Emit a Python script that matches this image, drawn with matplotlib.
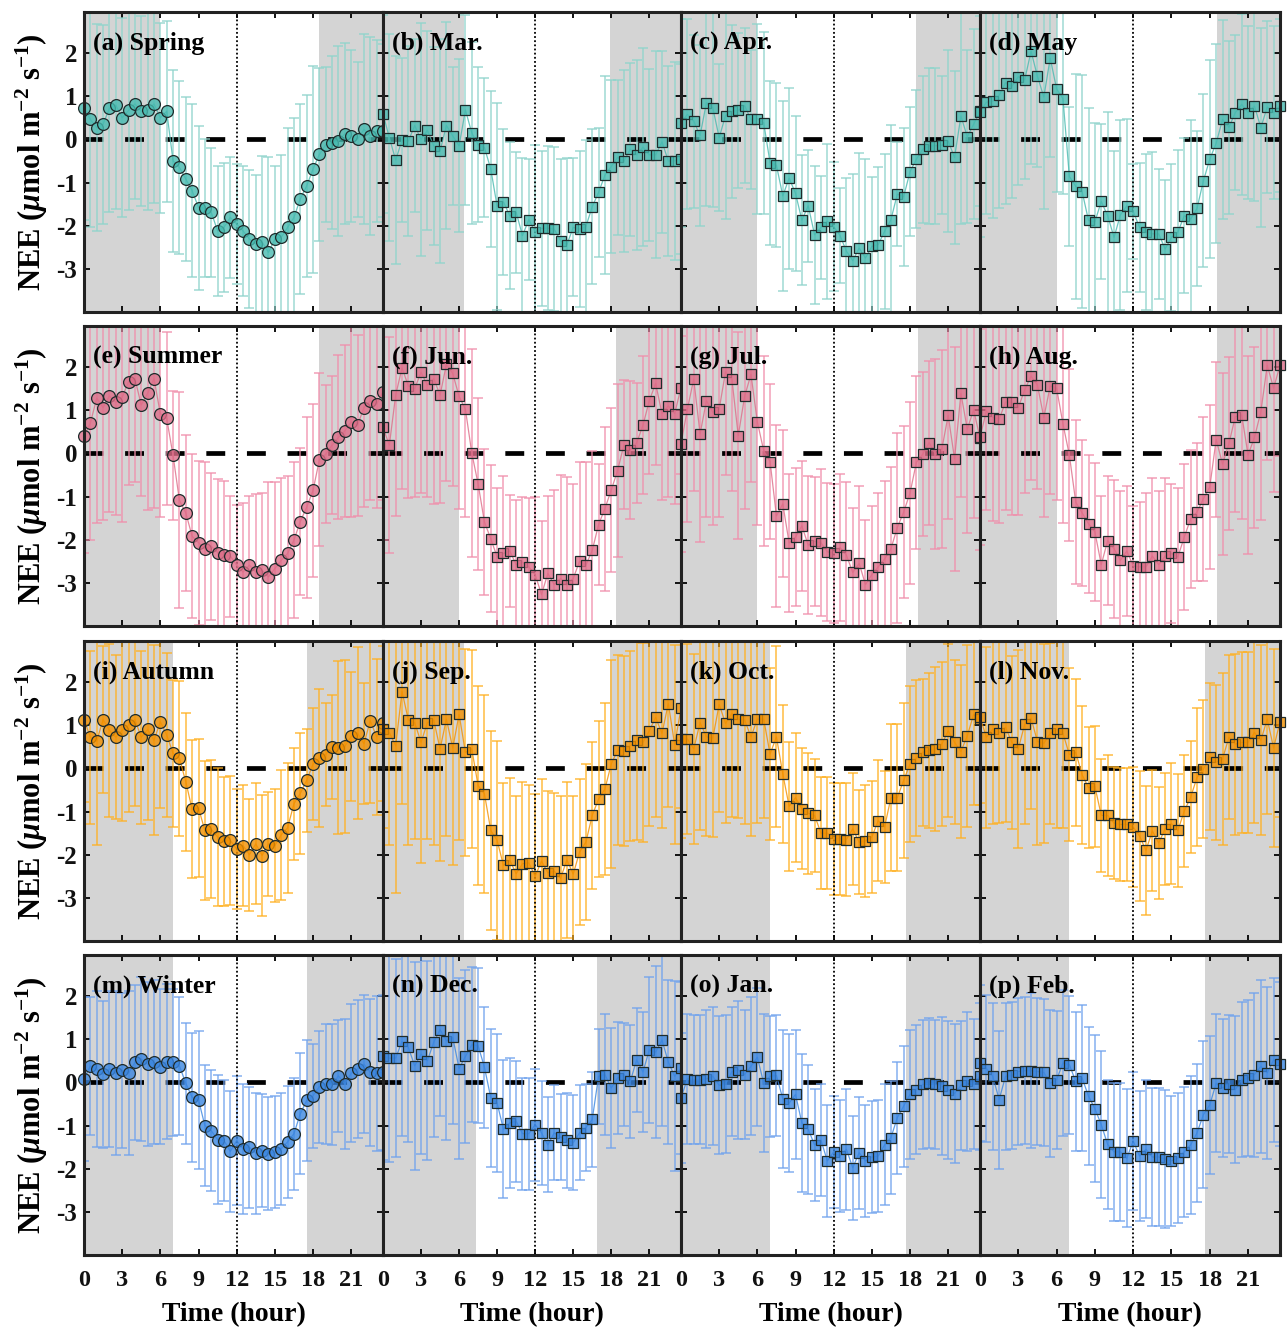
import numpy as np
import matplotlib
matplotlib.use("Agg")
import matplotlib.pyplot as plt
from matplotlib.colors import to_rgba

plt.rcParams['font.family'] = ['Liberation Serif', 'DejaVu Serif']
plt.rcParams['font.weight'] = 'bold'
plt.rcParams['mathtext.fontset'] = 'custom'
plt.rcParams['mathtext.rm'] = 'Liberation Serif:bold'
plt.rcParams['mathtext.it'] = 'Liberation Serif:italic:bold'
plt.rcParams['mathtext.bf'] = 'Liberation Serif:bold'

hours = np.arange(48) * 0.5

# ---------------- data (mean NEE and SD, half-hourly) ----------------
spring_mean = [0.73,0.46,0.27,0.35,0.72,0.79,0.5,0.67,0.82,0.65,0.67,0.82,0.5,0.65,-0.5,-0.65,-0.92,-1.19,-1.58,-1.59,-1.69,-2.12,-2.04,-1.81,-1.96,-2.12,-2.31,-2.42,-2.38,-2.62,-2.31,-2.27,-2.04,-1.81,-1.38,-1.08,-0.69,-0.35,-0.12,-0.08,-0.04,0.13,0.08,0.0,0.23,0.08,0.19,0.2]
spring_sd = [2.6,2.5,2.4,2.3,2.4,2.4,2.3,2.3,2.2,2.2,2.3,2.3,2.2,2.1,2.1,2.0,1.9,2.0,1.9,1.6,1.5,1.5,1.5,1.4,1.4,1.5,1.6,1.6,2.0,2.2,1.7,1.9,2.3,2.3,2.2,2.1,2.4,2.0,1.8,2.0,2.2,2.1,2.0,1.8,2.2,2.3,2.1,2.0]
mar_mean = [0.59,0.04,-0.48,-0.02,-0.04,0.32,0.0,0.21,-0.15,-0.27,0.32,0.08,-0.15,0.68,0.15,-0.12,-0.19,-0.69,-1.55,-1.45,-1.77,-1.69,-2.23,-1.86,-2.14,-2.06,-2.06,-2.08,-2.35,-2.44,-2.04,-2.08,-2.02,-1.56,-1.23,-0.83,-0.63,-0.42,-0.5,-0.23,-0.36,-0.18,-0.36,-0.36,-0.06,-0.5,-0.5,-0.45]
mar_sd = [2.3,2.4,2.4,1.9,2.2,2.0,2.7,2.3,2.3,2.6,2.4,1.6,2.0,2.2,2.1,1.8,1.6,1.8,2.4,1.7,1.7,1.4,1.8,1.4,2.0,1.8,1.9,1.9,1.9,2.0,1.6,1.8,2.0,1.8,1.5,2.3,2.0,1.8,2.1,2.0,2.2,2.3,2.0,2.4,2.1,2.2,2.3,2.2]
apr_mean = [0.38,0.58,0.42,0.09,0.85,0.73,0.04,0.55,0.65,0.67,0.78,0.46,0.48,0.38,-0.54,-0.6,-1.31,-0.9,-1.25,-1.87,-1.54,-2.21,-2.04,-1.9,-2.02,-2.23,-2.59,-2.81,-2.52,-2.75,-2.48,-2.44,-2.13,-1.86,-1.27,-1.33,-0.75,-0.46,-0.23,-0.15,-0.15,-0.14,-0.04,-0.42,0.54,0.06,0.35,0.65]
apr_sd = [2.4,2.2,2.0,2.1,2.4,2.3,1.7,2.4,2.0,1.8,1.8,1.6,2.2,2.1,1.9,1.9,2.2,2.1,1.8,1.5,1.3,1.6,1.2,1.8,1.5,1.1,1.7,2.0,2.2,2.3,1.6,1.8,1.8,2.2,1.2,1.6,1.5,1.6,1.7,1.8,1.8,1.6,2.1,2.0,2.5,2.0,2.2,2.2]
may_mean = [0.63,0.86,0.88,1.02,1.31,1.23,1.45,1.38,2.04,1.46,0.98,1.88,1.17,0.94,-0.86,-1.09,-1.21,-1.88,-1.91,-1.44,-1.77,-2.27,-1.75,-1.54,-1.67,-2.04,-2.15,-2.19,-2.19,-2.54,-2.27,-2.15,-1.77,-1.85,-1.6,-0.96,-0.46,-0.09,0.46,0.28,0.62,0.81,0.62,0.77,0.27,0.75,0.62,0.78]
may_sd = [2.9,2.6,2.7,2.6,2.8,2.6,2.5,2.3,2.6,2.1,2.6,2.3,2.4,2.2,1.6,2.6,2.7,2.6,2.3,1.8,2.4,2.0,2.2,2.0,1.1,1.5,1.8,1.9,1.5,1.6,1.7,1.9,1.8,2.3,1.8,2.0,2.3,2.3,2.3,2.0,1.8,2.1,2.0,2.2,2.3,2.0,2.0,2.0]

summer_mean = [0.4,0.7,1.28,1.06,1.33,1.18,1.3,1.66,1.73,1.12,1.39,1.73,0.92,0.81,-0.05,-1.09,-1.38,-1.92,-2.07,-2.21,-2.15,-2.3,-2.35,-2.38,-2.59,-2.75,-2.59,-2.75,-2.71,-2.86,-2.67,-2.48,-2.32,-2.01,-1.58,-1.25,-0.86,-0.15,-0.02,0.19,0.37,0.52,0.73,0.65,1.06,1.22,1.14,1.42]
summer_sd = [2.7,2.7,2.9,2.6,2.7,2.6,2.9,2.4,2.4,2.1,2.7,3.0,2.4,2.0,1.5,2.5,1.8,1.9,1.9,2.0,1.7,1.7,1.7,1.4,1.4,1.6,1.6,1.8,1.8,2.2,2.0,1.9,1.8,1.8,1.7,2.1,2.0,2.0,1.6,1.6,1.9,2.0,2.2,2.1,2.3,2.3,2.4,2.5]
jun_mean = [0.6,0.19,1.35,1.98,1.56,1.5,1.88,1.58,1.73,1.35,2.06,1.85,1.32,1.02,0.01,-0.71,-1.59,-1.98,-2.4,-2.32,-2.26,-2.58,-2.52,-2.63,-2.81,-3.27,-2.78,-3.04,-2.9,-3.05,-2.9,-2.5,-2.59,-2.25,-1.65,-1.28,-0.85,-0.4,0.2,0.08,0.24,0.65,1.22,1.62,0.92,1.1,0.92,1.52]
jun_sd = [2.6,2.5,2.8,2.8,2.6,2.5,2.8,2.6,2.9,2.5,2.7,2.6,2.6,2.5,2.4,2.0,1.7,1.7,1.6,1.8,1.3,1.5,1.5,1.6,1.8,1.7,1.8,2.2,2.4,2.5,2.2,2.3,2.4,2.3,1.4,1.9,1.9,2.0,1.5,1.6,1.4,1.6,1.7,1.9,2.0,2.1,2.1,2.0]
jul_mean = [0.22,1.02,1.72,0.45,1.22,0.95,1.02,1.89,1.72,0.41,1.32,1.83,0.73,0.06,-0.19,-1.45,-1.17,-2.08,-1.94,-1.68,-2.13,-2.04,-2.07,-2.28,-2.32,-2.18,-2.36,-2.76,-2.55,-3.04,-2.81,-2.63,-2.45,-2.21,-1.72,-1.36,-0.92,-0.21,-0.02,0.25,-0.02,0.1,0.88,-0.13,1.39,0.56,1.01,0.35]
jul_sd = [2.5,2.6,2.6,2.5,2.7,2.6,2.5,2.4,2.6,2.4,2.6,2.5,2.4,2.2,1.8,2.1,1.7,1.6,1.6,1.5,1.6,1.5,1.7,1.6,1.6,1.7,1.7,1.5,1.8,1.5,1.6,1.7,1.8,1.9,2.2,2.0,2.1,2.0,1.9,1.9,2.2,2.3,2.4,2.6,2.4,2.4,2.5,2.6]
aug_mean = [0.37,0.98,0.83,0.79,1.19,1.18,1.06,1.47,1.79,1.58,0.83,1.56,1.51,0.68,-0.04,-1.13,-1.38,-1.63,-1.82,-2.58,-2.02,-2.21,-2.48,-2.26,-2.61,-2.63,-2.63,-2.38,-2.58,-2.38,-2.32,-2.4,-1.94,-1.52,-1.36,-1.05,-0.78,0.32,-0.25,0.23,0.85,0.89,-0.04,0.37,0.96,2.04,1.51,2.04]
aug_sd = [2.5,2.3,2.4,2.4,2.5,2.6,2.5,2.4,2.4,2.4,2.3,2.5,2.6,2.3,2.0,1.9,1.7,1.6,1.6,1.6,1.5,1.6,1.6,1.5,1.4,1.5,1.7,1.8,1.7,1.8,1.6,1.6,1.7,1.6,1.6,1.9,1.9,1.8,2.1,2.0,2.2,2.4,2.3,2.1,2.5,2.2,2.4,2.1]

autumn_mean = [1.13,0.72,0.63,1.13,0.88,0.72,0.88,1.0,1.13,0.72,0.9,0.65,1.08,0.77,0.35,0.23,-0.31,-0.95,-0.92,-1.44,-1.41,-1.59,-1.69,-1.67,-1.87,-1.79,-2.0,-1.75,-2.02,-1.75,-1.79,-1.54,-1.38,-0.82,-0.58,-0.28,0.1,0.23,0.32,0.5,0.48,0.51,0.74,0.82,0.57,1.1,0.73,1.04]
autumn_sd = [1.9,2.0,2.4,1.7,2.0,1.9,2.1,2.0,2.0,2.0,2.1,2.2,2.0,1.9,1.7,1.8,1.6,1.6,1.6,1.6,1.6,1.6,1.5,1.5,1.4,1.4,1.3,1.4,1.4,1.2,1.3,1.5,1.5,1.3,1.4,1.2,1.3,1.6,1.2,1.2,2.0,2.0,1.5,2.0,1.4,1.9,1.8,1.8]
sep_mean = [0.91,0.83,0.52,1.78,1.12,1.06,0.6,1.06,1.12,0.45,1.14,0.47,1.25,0.37,0.45,-0.4,-0.59,-1.44,-1.67,-2.25,-2.13,-2.44,-2.21,-2.19,-2.5,-2.15,-2.42,-2.38,-2.55,-2.12,-2.45,-1.94,-1.71,-1.09,-0.71,-0.48,0.1,0.42,0.41,0.52,0.65,0.6,0.87,1.18,0.81,1.5,0.55,1.39]
sep_sd = [2.3,2.6,3.4,2.6,2.9,2.7,2.8,2.7,2.9,2.6,2.7,2.7,2.9,2.4,2.3,2.3,2.3,2.3,2.3,1.9,1.9,1.8,1.9,1.8,1.9,1.9,1.9,1.8,1.9,1.8,1.8,1.7,1.8,1.7,1.8,2.0,2.4,2.2,2.2,2.2,2.3,2.3,2.2,2.3,2.2,2.4,2.3,2.3]
oct_mean = [0.68,0.68,0.45,1.06,0.73,0.7,1.48,1.04,1.27,1.14,1.12,0.73,1.14,1.14,0.33,0.73,-0.13,-0.88,-0.68,-0.94,-1.04,-1.09,-1.5,-1.5,-1.63,-1.63,-1.65,-1.4,-1.71,-1.68,-1.59,-1.21,-1.36,-0.68,-0.68,-0.28,0.1,0.24,0.37,0.42,0.45,0.56,0.87,0.6,0.39,0.75,1.25,1.14]
oct_sd = [2.3,2.2,2.2,2.5,2.3,2.3,2.5,2.3,2.4,2.3,2.4,2.3,2.4,2.3,2.0,2.1,1.6,1.5,1.5,1.4,1.4,1.3,1.3,1.3,1.3,1.3,1.3,1.3,1.2,1.3,1.3,1.4,1.3,1.7,1.7,1.8,1.8,1.8,1.7,1.8,1.9,1.9,2.0,1.9,2.0,2.1,2.1,2.0]
nov_mean = [1.19,0.72,0.91,0.83,0.95,0.6,0.45,1.02,1.16,0.62,0.58,0.81,0.91,0.81,0.32,0.37,-0.15,-0.45,-0.42,-1.09,-1.09,-1.27,-1.3,-1.3,-1.36,-1.57,-1.9,-1.45,-1.73,-1.4,-1.28,-1.44,-0.99,-0.67,-0.21,-0.02,0.27,0.14,0.22,0.72,0.56,0.6,0.6,0.83,0.65,1.14,0.47,1.08]
nov_sd = [2.0,2.1,2.2,2.1,2.2,2.0,2.3,2.3,2.1,2.4,2.3,2.1,2.3,2.2,2.0,1.7,1.6,1.4,1.4,1.3,1.4,1.3,1.3,1.3,1.4,1.5,1.5,1.4,1.3,1.3,1.4,1.3,1.3,1.3,1.6,1.6,1.7,1.8,2.0,1.9,2.1,2.1,2.1,2.1,2.2,2.2,2.3,2.2]

winter_mean = [0.08,0.38,0.31,0.19,0.31,0.21,0.28,0.21,0.46,0.54,0.42,0.46,0.36,0.48,0.46,0.38,-0.02,-0.35,-0.41,-1.0,-1.12,-1.33,-1.35,-1.6,-1.35,-1.54,-1.5,-1.64,-1.58,-1.65,-1.62,-1.54,-1.38,-1.19,-0.73,-0.42,-0.31,-0.1,-0.04,-0.05,0.15,-0.04,0.21,0.31,0.42,0.23,0.21,0.23]
winter_sd = [1.9,1.6,1.8,1.7,1.8,1.9,1.8,1.9,1.8,1.9,1.9,1.9,1.8,1.8,1.7,1.6,1.4,1.5,1.6,1.4,1.4,1.5,1.4,1.4,1.5,1.5,1.4,1.4,1.3,1.3,1.3,1.3,1.3,1.3,1.4,1.4,1.2,1.3,1.4,1.4,1.3,1.5,1.6,1.6,1.6,1.7,1.8,1.8]
dec_mean = [0.6,0.56,0.56,0.95,0.81,0.38,0.65,0.5,0.93,1.22,0.96,1.04,0.32,0.6,0.87,0.85,0.35,-0.36,-0.48,-1.09,-0.94,-0.9,-1.19,-1.19,-0.98,-1.17,-1.45,-1.17,-1.27,-1.34,-1.4,-1.17,-1.05,-0.86,0.14,0.18,-0.13,0.1,0.18,0.02,0.52,0.24,0.75,0.7,0.98,0.47,0.14,0.33]
dec_sd = [2.4,2.4,2.3,2.2,2.2,2.4,2.3,2.3,2.2,2.0,2.3,2.0,2.1,2.0,1.8,1.8,1.4,1.6,1.6,1.6,1.5,1.4,1.3,1.3,1.3,1.2,1.1,1.1,1.0,1.1,1.1,1.1,1.0,1.1,1.1,1.4,1.4,1.3,1.2,1.3,1.2,1.4,1.7,2.0,2.0,1.9,2.2,2.0]
jan_mean = [-0.36,0.08,0.06,0.06,0.08,0.14,-0.07,-0.04,0.25,0.29,0.18,0.37,0.58,-0.02,0.14,0.16,-0.38,-0.48,-0.28,-0.94,-1.09,-1.45,-1.34,-1.82,-1.61,-1.71,-1.55,-1.98,-1.63,-1.82,-1.73,-1.71,-1.45,-1.28,-0.82,-0.55,-0.28,-0.17,-0.05,-0.02,-0.05,-0.09,-0.17,-0.26,-0.07,0.02,-0.04,0.14]
jan_sd = [1.5,1.5,1.5,1.5,1.6,1.6,1.6,1.6,1.5,1.6,1.5,1.6,1.6,1.6,1.4,1.4,1.6,1.6,1.5,1.6,1.5,1.3,1.3,1.3,1.3,1.3,1.4,1.2,1.3,1.3,1.3,1.3,1.4,1.3,1.3,1.4,1.5,1.5,1.5,1.5,1.5,1.6,1.6,1.6,1.5,1.6,1.5,1.7]
feb_mean = [0.45,0.32,0.14,-0.4,0.14,0.16,0.25,0.27,0.27,0.25,0.23,-0.02,0.06,0.45,0.41,0.02,0.1,-0.32,-0.61,-0.98,-1.44,-1.61,-1.61,-1.76,-1.36,-1.71,-1.55,-1.73,-1.73,-1.78,-1.82,-1.75,-1.61,-1.45,-1.17,-0.75,-0.52,-0.02,-0.13,-0.04,-0.17,0.06,0.1,0.18,0.37,0.22,0.52,0.42]
feb_sd = [1.8,1.7,1.7,1.6,1.7,1.7,1.7,1.7,1.8,1.7,1.7,1.7,1.6,1.7,1.6,1.6,1.7,1.6,1.7,1.7,1.5,1.6,1.6,1.6,1.6,1.5,1.6,1.6,1.6,1.6,1.5,1.5,1.5,1.6,1.6,1.7,1.6,1.6,1.6,1.6,1.7,1.8,1.8,1.9,2.0,2.0,1.9,1.9]

panel_labels = ["(a) Spring", "(b) Mar.", "(c) Apr.", "(d) May",
                "(e) Summer", "(f) Jun.", "(g) Jul.", "(h) Aug.",
                "(i) Autumn", "(j) Sep.", "(k) Oct.", "(l) Nov.",
                "(m) Winter", "(n) Dec.", "(o) Jan.", "(p) Feb."]
# daytime (unshaded) window per panel: sunrise, sunset hour
sunrise = [6.0, 6.4, 6.0, 6.0,  6.0, 6.0, 6.0, 6.0,  7.0, 6.4, 7.0, 7.0,  7.0, 7.3, 7.0, 7.0]
sunset = [18.5, 17.9, 18.5, 18.6,  18.5, 18.4, 18.6, 18.6,  17.5, 17.9, 17.7, 17.6,  17.5, 16.9, 17.7, 17.6]
xtick_vals = [0, 3, 6, 9, 12, 15, 18, 21]
ytick_vals = [-3, -2, -1, 0, 1, 2]

means = [spring_mean, mar_mean, apr_mean, may_mean,
         summer_mean, jun_mean, jul_mean, aug_mean,
         autumn_mean, sep_mean, oct_mean, nov_mean,
         winter_mean, dec_mean, jan_mean, feb_mean]
sds = [spring_sd, mar_sd, apr_sd, may_sd,
       summer_sd, jun_sd, jul_sd, aug_sd,
       autumn_sd, sep_sd, oct_sd, nov_sd,
       winter_sd, dec_sd, jan_sd, feb_sd]

# colours per row: marker face, errorbar
face_cols = ['#47bab0', '#dd6d88', '#f29000', '#3a86e0']
err_cols = ['#8fd4cc', '#f08fab', '#ffb020', '#70a3ee']

W, H = 1287, 1328
fig = plt.figure(figsize=(W / 100, H / 100), dpi=100)
col_left = [84, 383, 681, 980]
col_w = [299, 298, 299, 300]
row_top = [12, 326, 641, 955]
row_h = 300

for i in range(16):
    r, c = divmod(i, 4)
    l, t, w = col_left[c], row_top[r], col_w[c]
    ax = fig.add_axes([l / W, 1 - (t + row_h) / H, w / W, row_h / H])
    ax.set_xlim(0, 23.5)
    ax.set_ylim(-4, 2.95)
    ax.axvspan(0, sunrise[i], color='#d4d4d4', lw=0, zorder=0)
    ax.axvspan(sunset[i], 23.5, color='#d4d4d4', lw=0, zorder=0)
    zl, = ax.plot([0, 23.5], [0, 0], color='black', lw=3.4, zorder=1)
    zl.set_dashes((4.0, 4.6))
    ax.axvline(12, color='black', lw=1.3, ls=(0, (1, 1.3)), zorder=3)
    m = np.array(means[i]); s = np.array(sds[i])
    ax.errorbar(hours, m, yerr=s, fmt='none', ecolor=err_cols[r], elinewidth=1.1,
                capsize=3.6, capthick=1.1, alpha=0.85, zorder=2)
    ax.plot(hours, m, '-', color=face_cols[r], lw=0.9, alpha=0.8, zorder=4)
    mk = 'o' if c == 0 else 's'
    ms = 8.5 if c == 0 else 6.6
    ax.plot(hours, m, mk, ls='none', ms=ms, mfc=to_rgba(face_cols[r], 0.8),
            mec='#1e2b2b', mew=0.9, zorder=5, clip_on=False)
    ax.text(0.03, 0.895, panel_labels[i], transform=ax.transAxes, fontsize=18.5,
            fontweight='bold', va='center', ha='left', zorder=6)
    ax.set_xticks(xtick_vals)
    ax.set_yticks(ytick_vals)
    ax.tick_params(direction='in', top=True, right=True, length=4, width=1.4,
                   colors='#111111')
    ax.tick_params(axis='x', labelsize=17.5, pad=11)
    ax.tick_params(axis='y', labelsize=18, pad=5)
    if r < 3:
        ax.set_xticklabels([])
    else:
        ax.set_xticklabels([str(v) for v in xtick_vals], fontweight='bold')
        ax.set_xlabel('Time (hour)', fontsize=20, fontweight='bold', labelpad=8)
    if c > 0:
        ax.set_yticklabels([])
    else:
        ax.set_yticklabels([str(v) for v in ytick_vals], fontweight='bold')
    for sp in ax.spines.values():
        sp.set_linewidth(2.2)
        sp.set_color('#222222')
        sp.set_zorder(7)

for r in range(4):
    yc = 1 - (row_top[r] + row_h / 2) / H
    fig.text(32 / W, yc, r'NEE ($\mu$mol m$^{-2}$ s$^{-1}$)', rotation=90,
             fontsize=22, fontweight='bold', ha='center', va='center')

fig.savefig('out.png', dpi=100)
